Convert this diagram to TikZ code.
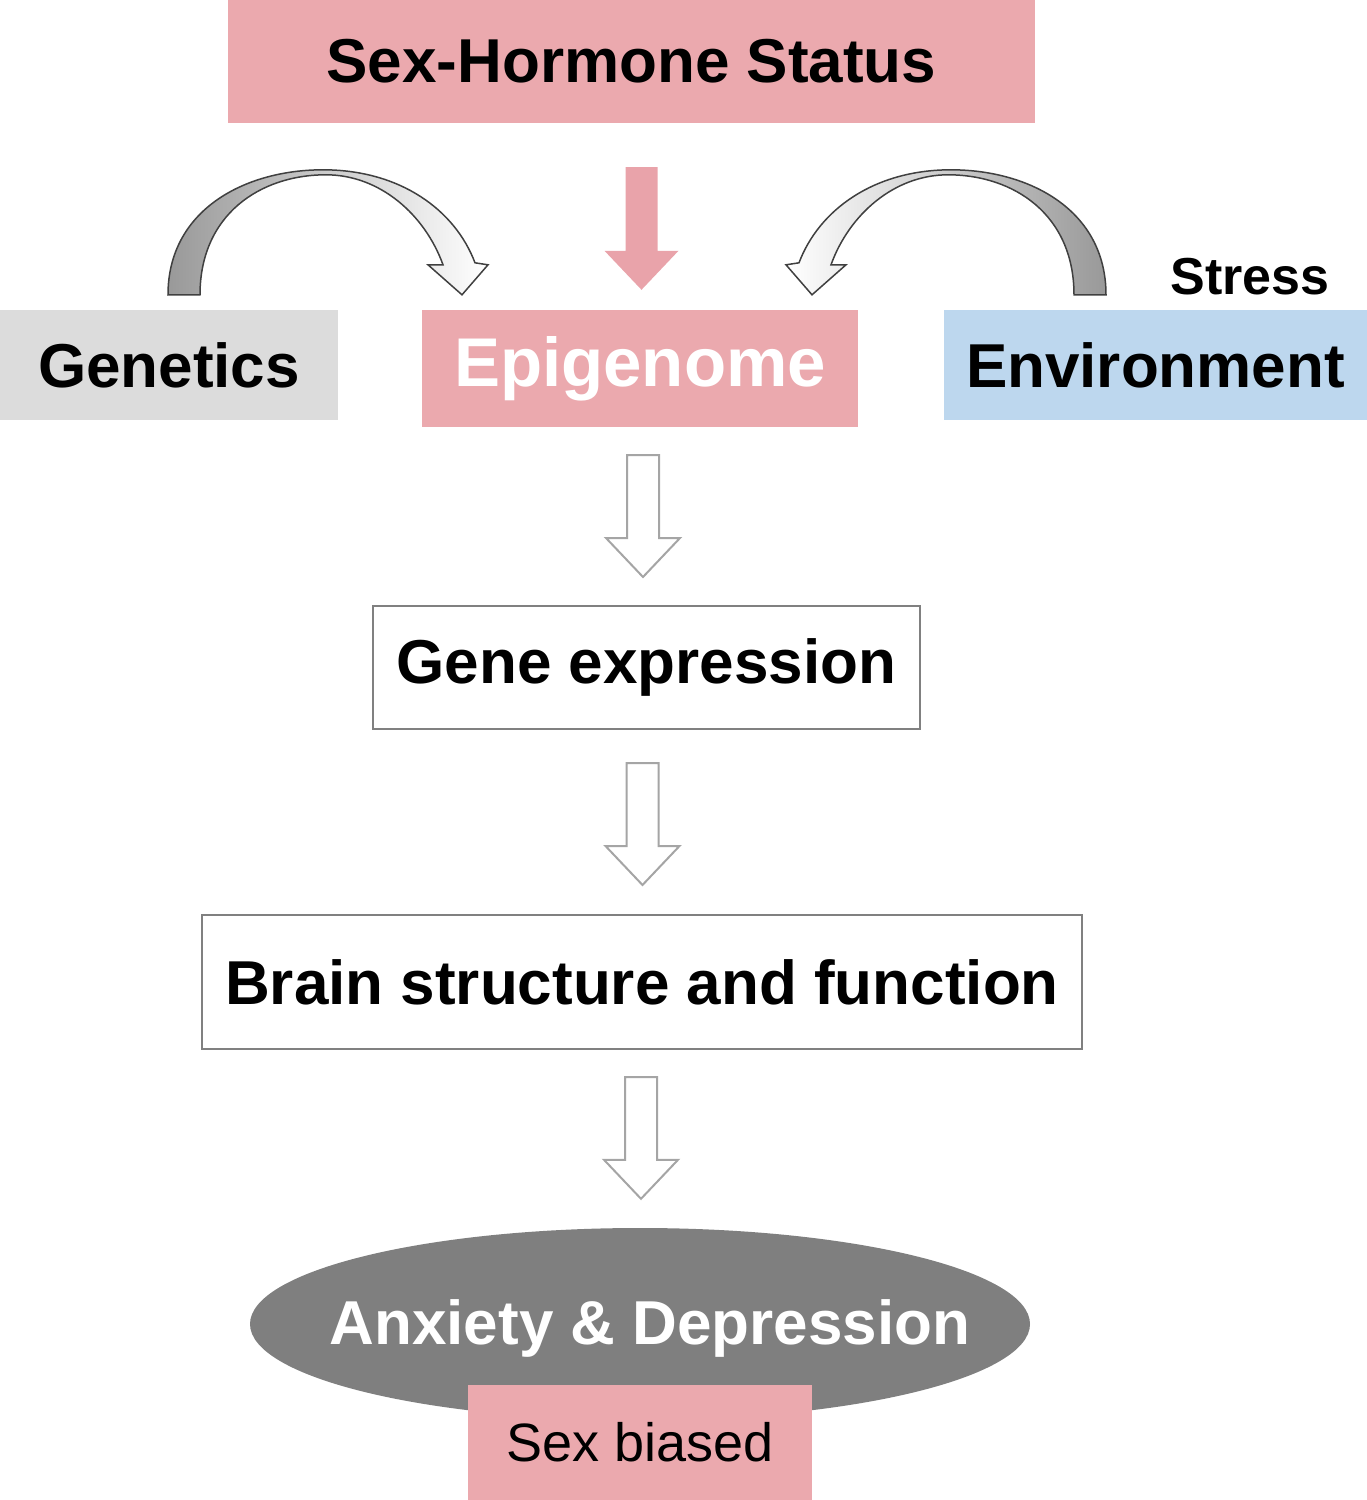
\documentclass[tikz,border=0pt]{standalone}
\usepackage{fontspec}
\setmainfont{Liberation Sans}
\usetikzlibrary{calc,
                shapes.geometric}
\definecolor{hormonepink}{RGB}{235,169,174}
\definecolor{arrowpink}{RGB}{233,163,170}
\definecolor{genegray}{RGB}{220,220,220}
\definecolor{envblue}{RGB}{189,215,238}
\definecolor{ovalgray}{RGB}{127,127,127}
\definecolor{framegray}{RGB}{128,128,128}
\definecolor{outlinegray}{RGB}{165,165,165}
\tikzset{box/.style = {rectangle,
                     inner sep=0pt,
                     font=\fontsize{62}{70}\selectfont\bfseries
                    },
         pinkbox/.style = {box, fill=hormonepink},
         framebox/.style = {box, draw=framegray, line width=2pt, fill=white},
         openarrow/.style = {draw=outlinegray, line width=2pt, fill=white},
         fullarrow/.style = {fill=arrowpink},
         bendarrow/.style = {draw=black!75, line width=1.5pt,
                     left color=black!40, right color=white},
         bendarrowflip/.style = {draw=black!75, line width=1.5pt,
                     left color=white, right color=black!40},
         curvedarrow/.pic = {
            \path[#1] (0,0) .. controls (0,-85) and (77,-125) .. (155,-125)
                .. controls (232,-125) and (287,-85) .. (307,-32)
                -- (320,-30) -- (294,0) -- (260,-30) -- (275,-30)
                .. controls (257,-80) and (212,-120) .. (158,-120)
                .. controls (92,-120) and (32,-80) .. (32,0) -- cycle;
         }
        }
% block arrow pointing down: style, from, to
\newcommand{\blockarrow}[3]{%
    \path[#1] let \p1=#2, \p2=#3 in
        (\x1-16pt,\y1) -- (\x1+16pt,\y1) -- (\x1+16pt,\y2+39pt) -- (\x1+37pt,\y2+39pt)
        -- (\x1,\y2) -- (\x1-37pt,\y2+39pt) -- (\x1-16pt,\y2+39pt) -- cycle;}

\begin{document}
\begin{tikzpicture}[x=1pt,y=-1pt]
    \useasboundingbox (0,0) rectangle (1367,1500);

    \node[pinkbox,minimum width=807pt,minimum height=123pt] (hormone) at (631.5,61.5) {Sex-Hormone Status};
    \node[box,fill=genegray,minimum width=338pt,minimum height=110pt] (genetics) at (169,365) {Genetics};
    \node[pinkbox,text=white,minimum width=436pt,minimum height=117pt,
          font=\fontsize{69}{76}\selectfont\bfseries] (epigenome) at (640,368.5) {Epigenome};
    \node[box,fill=envblue,minimum width=423pt,minimum height=110pt] (environment) at (1155.5,365) {Environment};
    \node[box,font=\fontsize{52}{60}\selectfont\bfseries] (stress) at (1250,277) {Stress};

    \node[framebox,minimum width=547pt,minimum height=123pt] (geneexpr) at (646.5,667.5) {Gene expression};
    \node[framebox,minimum width=880pt,minimum height=134pt] (brain) at (642,982) {Brain structure and function};

    \node[ellipse,fill=ovalgray,inner sep=0pt,minimum width=780pt,minimum height=192pt,
          label={[text=white,font=\fontsize{62}{70}\selectfont\bfseries,xshift=10pt,yshift=-4pt]center:Anxiety \& Depression}]
          (disorder) at (640,1324) {};
    \node[pinkbox,font=\fontsize{54}{60}\selectfont,minimum width=344pt,minimum height=115pt] (sexbiased) at (640,1442.5) {Sex biased};

    \blockarrow{fullarrow}{($(hormone.south)+(10,44)$)}{($(epigenome.north)+(0,-20)$)}
    \blockarrow{openarrow}{($(epigenome.south)+(3,28)$)}{($(geneexpr.north)+(0,-28)$)}
    \blockarrow{openarrow}{($(geneexpr.south)+(-4,33)$)}{($(brain.north)+(0,-29)$)}
    \blockarrow{openarrow}{($(brain.south)+(-1,27)$)}{($(disorder.north)+(0,-29)$)}

    \pic at ($(genetics.north)+(-1,-15)$) {curvedarrow=bendarrow};
    \pic[xscale=-1] at ($(environment.north)+(-49.5,-15)$) {curvedarrow=bendarrowflip};
\end{tikzpicture}
\end{document}
